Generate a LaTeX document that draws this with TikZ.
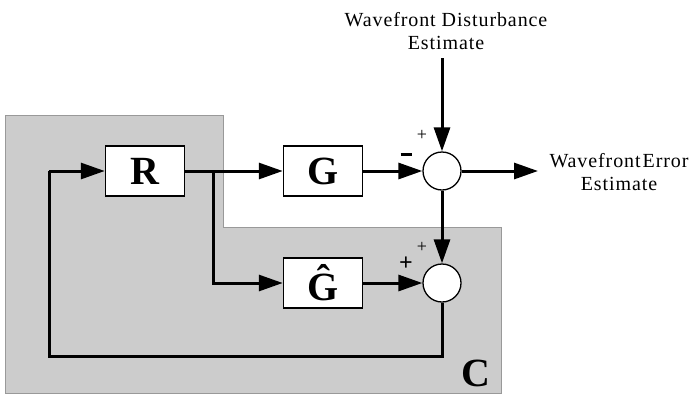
\documentclass[tikz,border=0pt]{standalone}
\usepackage{fontspec}
\setmainfont{Liberation Serif}
\newfontfamily\labelfont[LetterSpace=4.5]{Liberation Serif}
\usetikzlibrary{arrows.meta}
\tikzset{
  block/.style={draw, fill=white, line width=1.5pt, minimum width=79pt, minimum height=50pt,
    inner sep=0pt, font=\fontsize{40}{40}\selectfont\bfseries},
  sumnode/.style={draw, fill=white, circle, line width=1.3pt, minimum size=38pt, inner sep=0pt},
  sig/.style={line width=3pt, -{Triangle[length=24pt, width=16pt]}},
  wire/.style={line width=3pt},
  lbl/.style={font=\labelfont\fontsize{20}{23}\selectfont, align=center},
  sgn/.style={font=\fontsize{18}{18}\selectfont, inner sep=0pt},
  bsgn/.style={font=\fontsize{24}{24}\selectfont\bfseries, inner sep=0pt},
}
\begin{document}
\begin{tikzpicture}[x=1pt, y=-1pt]
\useasboundingbox (0,0) rectangle (690,394);
% controller region C
\filldraw[fill=black!20, draw=black!40, line width=1pt]
  (5,115) -- (223,115) -- (223,227) -- (501,227) -- (501,393) -- (5,393) -- cycle;
\node[font=\fontsize{40}{40}\selectfont\bfseries] (cl) at (476,373) {C};

% blocks
\node[block] (R) at (145,171) {R};
\node[block] (G) at (323,171) {G};
\node[block] (Gh) at (323,283) {Ĝ};
\node[sumnode] (s1) at (442,171) {};
\node[sumnode] (s2) at (442,283) {};

% external signals
\coordinate (din) at (442,58);
\coordinate (eout) at (538,171);
\node[lbl] (dl) at (446,31) {Wavefront Disturbance\\Estimate};
\node[lbl] (el) at (619,172) {Wavefront\kern2pt Error\\Estimate};

% connections
\coordinate (br) at (213,171);
\coordinate (fb1) at (442,356);
\coordinate (fb2) at (49,356);
\coordinate (fb3) at (49,171);
\draw[sig] (R.east) -- (G.west);
\draw[sig] (br) |- (Gh.west);
\draw[sig] (G.east) -- (s1.west);
\draw[sig] (Gh.east) -- (s2.west);
\draw[sig] (din) -- (s1.north);
\draw[sig] (s1.south) -- (s2.north);
\draw[sig] (s1.east) -- (eout);
\draw[wire, line join=miter] (s2.south) -- (fb1) -- (fb2) -- (fb3);
\draw[sig] (fb3) -- (R.west);

% signs
\node[sgn] (p1) at (422,135) {+};
\node[bsgn] (m1) at (406,154) {\rule{11pt}{3pt}};
\node[sgn] (p2) at (422,247) {+};
\node[bsgn] (p3) at (406,264) {+};
\end{tikzpicture}
\end{document}
